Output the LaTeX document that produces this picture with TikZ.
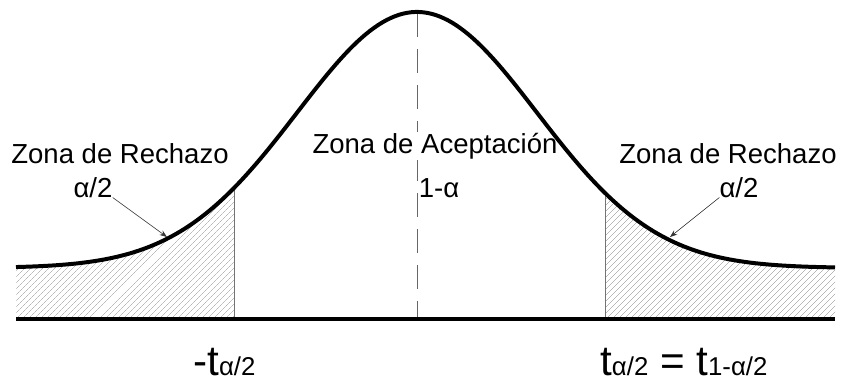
\documentclass[tikz,border=0pt]{standalone}
\usepackage{fontspec}
\setmainfont{Liberation Sans}
\usetikzlibrary{arrows.meta,patterns.meta}
\tikzset{
    curva/.style={line width=3.4pt,draw=black},
    rayado/.style={pattern={Lines[angle=45,distance=4pt,line width=0.35pt]},pattern color=black!80},
    corte/.style={draw=black!55,line width=0.6pt},
    etiqueta/.style={font=\fontsize{23.5}{25}\selectfont,inner sep=0pt,anchor=base},
    flecha/.style={-{Stealth[length=2.2mm,width=1.6mm]},draw=black!80,line width=0.5pt}
}
\newcommand{\grande}{\fontsize{36}{38}\selectfont}
\newcommand{\tsub}[1]{{\grande t}{\fontsize{22}{24}\selectfont #1}}

\begin{document}
\begin{tikzpicture}[x=0.03cm,y=-0.03cm]
\useasboundingbox (0,0) rectangle (845,383);

% zonas de rechazo
\fill[rayado] (16,319) -- (16,268)
  -- plot[domain=16:234,samples=60] (\x,{268-256*exp(-0.5*((\x-417)/120)^2)})
  -- (234,319) -- cycle;
\fill[rayado] (605,319)
  -- plot[domain=605:835,samples=60] (\x,{268-256*exp(-0.5*((\x-417)/120)^2)})
  -- (835,319) -- cycle;
\draw[corte] (234,319) -- (234,{268-256*exp(-0.5*((234-417)/120)^2)});
\draw[corte] (605,319) -- (605,{268-256*exp(-0.5*((605-417)/120)^2)});

% eje central
\draw[draw=black!60,line width=0.6pt,dash pattern=on 0.72cm off 0.36cm] (417,13) -- (417,319);
\node[etiqueta,fill=white,inner sep=1pt] (acepta) at (435,153) {Zona de Aceptación};

% curva y base
\draw[curva] plot[domain=16:835,samples=200] (\x,{268-256*exp(-0.5*((\x-417)/120)^2)});
\draw[curva] (16,319) -- (835,319);

% textos
\node[etiqueta] (rechizq) at (120,163) {Zona de Rechazo};
\node[etiqueta] (alfaizq) at (93,197) {α/2};
\node[etiqueta] (unomenos) at (439,197) {1-α};
\node[etiqueta] (rechder) at (728,163) {Zona de Rechazo};
\node[etiqueta] (alfader) at (739,197) {α/2};

\coordinate (pizq) at (167,237);
\coordinate (pder) at (670,237);
\draw[flecha] (alfaizq.south east) -- (pizq);
\draw[flecha] (alfader.south west) -- (pder);

\node[inner sep=0pt,anchor=base west] (tizq) at (193,375) {{\grande -}\tsub{α/2}};
\node[inner sep=0pt,anchor=base west] (tder) at (600,375) {\tsub{α/2}{\grande\ =\ }\tsub{1-α/2}};
\end{tikzpicture}
\end{document}
